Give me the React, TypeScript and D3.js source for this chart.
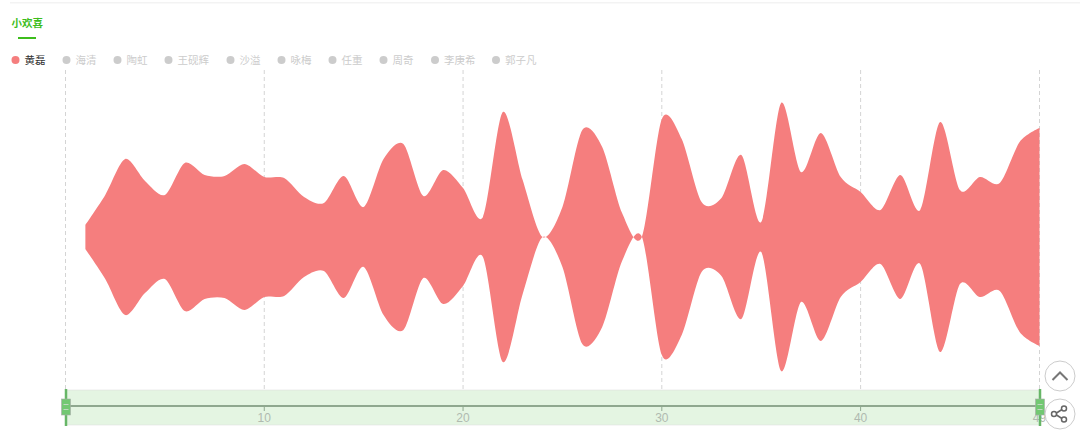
import React from 'react';
import * as d3 from 'd3';

const tabTitle = '小欢喜';
const names = ['黄磊', '海清', '陶虹', '王砚辉', '沙溢', '咏梅', '任重', '周奇', '李庚希', '郭子凡'];
const legendDots = [15.5, 66.5, 117.5, 168.5, 230.5, 281.5, 332.5, 383.5, 435, 496];
const episodes = d3.range(1, 50);
// half width of the river for every episode
const huanglei = [
  12, 42, 78, 56, 42, 74, 62, 61, 73, 60,
  59, 40, 34, 61, 30, 78, 93, 41, 67, 49,
  20, 125, 57, 0, 30, 107, 90, 24, 0, 118,
  98, 35, 39, 82, 15, 134, 65, 104, 60, 45,
  27, 62, 27, 115, 47, 60, 54, 95, 109,
];
const xTicks = [0, 10, 20, 30, 40, 49];
const sliderLabels = [10, 20, 30, 40, 49];

const width = 1080;
const height = 436;

export default function App() {
  const x = d3.scaleLinear().domain([0, 49]).range([65.5, 1039.5]);
  const y = d3.scaleLinear().domain([-150, 150]).range([387, 87]);
  const area = d3.area<number>()
    .x((_, i) => x(episodes[i]))
    .y0(d => y(-d))
    .y1(d => y(d))
    .curve(d3.curveCardinal.tension(0.15));

  const font = '"Microsoft YaHei", "Noto Sans CJK SC", sans-serif';

  return (
    <svg width={width} height={height} style={{ position: 'fixed', left: 0, top: 0, background: '#fff' }} fontFamily={font}>
      <rect x={10} y={2} width={1070} height={1.5} fill="#f3f3f3" />
      <text x={11.5} y={27} fontSize={10.5} fontWeight={700} fill="#3dbd1c">{tabTitle}</text>
      <rect x={18} y={37} width={18} height={2} fill="#3dbd1c" />

      {xTicks.map(t => (
        <line key={t} x1={x(t)} x2={x(t)} y1={70} y2={390} stroke="#d4d4d4" strokeDasharray="4 3" />
      ))}

      {names.map((n, i) => (
        <g key={n}>
          <circle cx={legendDots[i]} cy={60} r={4} fill={i === 0 ? '#f57e7e' : '#ccc'} />
          <text x={legendDots[i] + 9} y={64} fontSize={10.5} fill={i === 0 ? '#333' : '#ccc'}>{n}</text>
        </g>
      ))}

      <path d={area(huanglei) ?? ''} fill="#f57e7e" />

      <rect x={x(0)} y={390} width={x(49) - x(0)} height={35} fill="#e4f5e2" stroke="#dcdcdc" strokeWidth={0.5} />
      <line x1={x(0)} x2={x(49)} y1={406} y2={406} stroke="#8fa88f" strokeWidth={1.8} />
      {sliderLabels.map(t => (
        <g key={t}>
          <line x1={x(t)} x2={x(t)} y1={406} y2={411} stroke="#8fa88f" />
          <text x={x(t)} y={421.5} textAnchor="middle" fontSize={12} fill="#b0bab0" fontFamily="Liberation Sans, sans-serif">{t}</text>
        </g>
      ))}
      {[0, 49].map(t => (
        <g key={t}>
          <line x1={x(t) + 0.5} x2={x(t) + 0.5} y1={389} y2={426} stroke="#67b667" strokeWidth={2.5} />
          <rect x={x(t) - 4} y={399} width={9} height={16} fill="#72c872" stroke="#aaa" strokeWidth={0.6} />
          <line x1={x(t) - 2} x2={x(t) + 3} y1={404.5} y2={404.5} stroke="#c0d8c0" />
          <line x1={x(t) - 2} x2={x(t) + 3} y1={409.5} y2={409.5} stroke="#c0d8c0" />
        </g>
      ))}

      <circle cx={1060} cy={376} r={15} fill="#fff" stroke="#ccc" />
      <path d="M1052.5 380 L1060 372.5 L1067.5 380" fill="none" stroke="#777" strokeWidth={2} />
      <circle cx={1060} cy={414} r={15} fill="#fff" stroke="#ccc" />
      <g fill="none" stroke="#666" strokeWidth={1.5}>
        <circle cx={1054} cy={414} r={2.5} />
        <circle cx={1064} cy={408.5} r={2.5} />
        <circle cx={1064} cy={419.5} r={2.5} />
        <path d="M1056.5 413 L1062 409.5 M1056.5 415 L1062 418.5" />
      </g>
    </svg>
  );
}
